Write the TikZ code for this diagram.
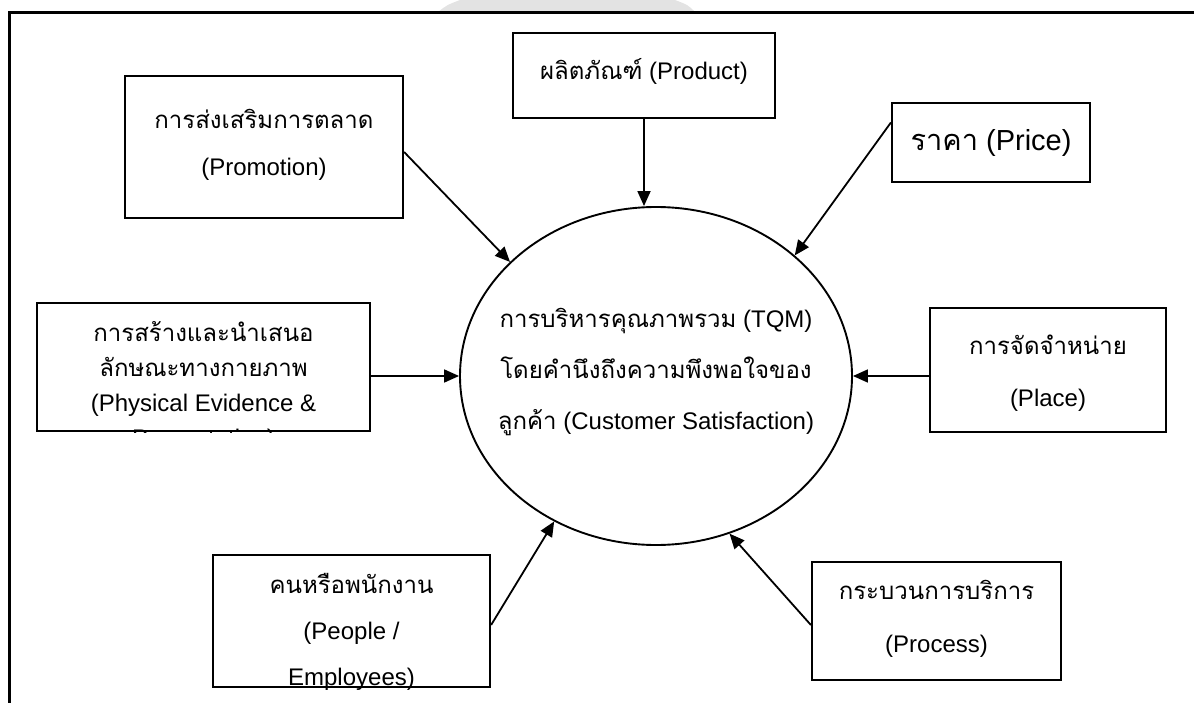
\documentclass[tikz,border=0pt]{standalone}
\usepackage{fontspec}
\setmainfont{Liberation Sans}
\newfontfamily\thaifont[Script=Thai]{Loma}
\newcommand\tha[1]{{\thaifont #1}}
\usetikzlibrary{arrows.meta,shapes.geometric}

\begin{document}
\begin{tikzpicture}[x=1pt,y=-1pt,
  box/.style={draw, line width=2.2pt, inner sep=0pt},
  boxtext/.style={align=center, inner sep=0pt, font=\fontsize{24}{#1}\selectfont},
  boxtext/.default=47,
  feed/.style={line width=1.8pt, -{Triangle[length=15pt,width=13pt]}},
]
\useasboundingbox (0,0) rectangle (1194,703);

% faint mark behind the top rule
\fill[black!11] (438,12) -- (695,12) .. controls (688,5) .. (675,0)
  -- (460,0) .. controls (447,5) .. (438,12) -- cycle;
% page frame
\draw[line width=2.3pt] (1194,12.5) -- (9.5,12.5) -- (9.5,703);

% central ellipse
\node[draw, ellipse, line width=1.9pt, minimum width=392pt, minimum height=338pt,
      inner sep=0pt] (tqm) at (656,376) {};
\node[boxtext=51] (tqmtext) at (656,372)
  {\tha{การบริหารคุณภาพรวม} (TQM)\\
   \tha{โดยคำนึงถึงความพึงพอใจของ}\\
   \tha{ลูกค้า} (Customer Satisfaction)};

% surrounding factors
\node[box, minimum width=278pt, minimum height=142pt] (promo) at (264,147) {};
\node[boxtext] (promotext) at (264,145) {\tha{การส่งเสริมการตลาด}\\(Promotion)};

\node[box, minimum width=262pt, minimum height=85pt] (prod) at (644,75.5) {};
\node[boxtext] (prodtext) at (644,71) {\tha{ผลิตภัณฑ์} (Product)};

\node[box, minimum width=198pt, minimum height=79pt] (price) at (991,142.5) {};
\node[boxtext, font=\fontsize{29}{34}\selectfont] (pricetext) at (991,143) {\tha{ราคา} (Price)};

\node[box, minimum width=333pt, minimum height=128pt] (phys) at (203.5,367) {};
\begin{scope}
  \clip (phys.south west) rectangle (phys.north east);
  \node[boxtext=35] (phystext) at (203.5,386)
    {\tha{การสร้างและนำเสนอ}\\\tha{ลักษณะทางกายภาพ}\\(Physical Evidence \&\\Presentation)};
\end{scope}

\node[box, minimum width=236pt, minimum height=124pt] (place) at (1048,370) {};
\node[boxtext=52] (placetext) at (1048,373) {\tha{การจัดจำหน่าย}\\(Place)};

\node[box, minimum width=277pt, minimum height=132pt] (people) at (351.5,621) {};
\begin{scope}
  \clip ([shift={(1.1pt,-1.1pt)}]people.south west) rectangle ([shift={(-1.1pt,1.1pt)}]people.north east);
  \node[boxtext=46] (peopletext) at (351.5,632) {\tha{คนหรือพนักงาน}\\(People /\\Employees)};
\end{scope}

\node[box, minimum width=249pt, minimum height=118pt] (proc) at (936.5,621) {};
\node[boxtext=53] (proctext) at (936.5,618.5) {\tha{กระบวนการบริการ}\\(Process)};

% influences on the centre
\draw[feed] ([yshift=-5pt]promo.east) -- (tqm.142);
\draw[feed] (prod.south) -- (prod.south |- tqm.north);
\draw[feed] ([yshift=20pt]price.west) -- (tqm.41);
\draw[feed] (phys.east |- tqm.west) -- (tqm.west);
\draw[feed] (place.west |- tqm.east) -- (tqm.east);
\draw[feed] ([yshift=-4pt]people.east) -- (tqm.235);
\draw[feed] ([yshift=-4pt]proc.west) -- (tqm.295);
\end{tikzpicture}
\end{document}
